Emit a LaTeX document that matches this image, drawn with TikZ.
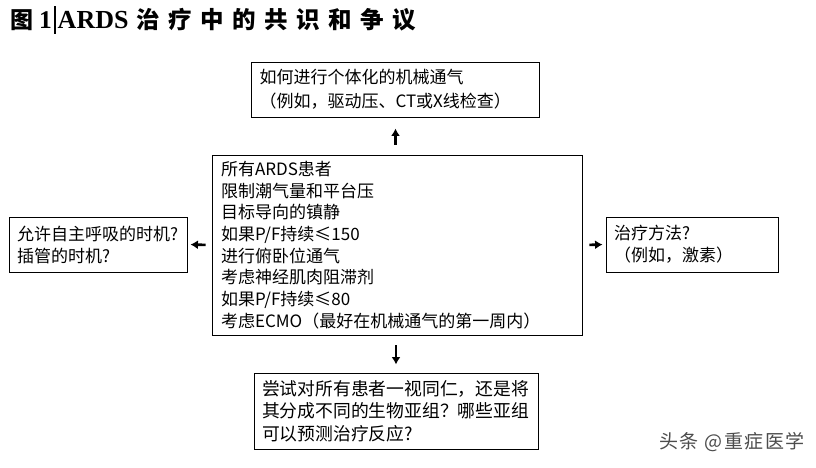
\documentclass[tikz,border=0pt]{standalone}
\usepackage{fontspec}
\usepackage{tikz}
\usetikzlibrary{positioning, arrows.meta}
\setmainfont{Noto Sans CJK SC}
\newfontfamily\cjk{Noto Sans CJK SC}
\newfontfamily\titlecjk[LetterSpace=36]{Noto Sans CJK SC}
\newfontfamily\markcjk[LetterSpace=8]{Noto Sans CJK SC}
\newfontfamily\titleserif{Liberation Serif}

\begin{document}
\begin{tikzpicture}[x=1pt, y=-1pt,
    box/.style={draw, line width=0.9pt, align=left, inner ysep=0pt, font=\cjk\fontsize{17}{22}\selectfont},
    link/.style={-{Latex[length=7.5pt, width=9pt]}, line width=2.6pt}]
    \useasboundingbox[fill=white] (0,0) rectangle (816,468);

    % Tiêu đề
    \node[anchor=base west, inner sep=0pt] (title) at (10,29)
        {{\cjk\bfseries\fontsize{23}{23}\selectfont 图}\hspace{6pt}{\titleserif\bfseries\fontsize{25.5}{25.5}\selectfont 1}\hspace{2pt}\rule[-5pt]{1.8pt}{28pt}\hspace{2pt}{\titleserif\bfseries\fontsize{26}{26}\selectfont ARDS}\hspace{8pt}{\titlecjk\bfseries\fontsize{23.5}{23.5}\selectfont 治疗中的共识和争议}};

    % Các hộp
    \node[box, inner xsep=9pt, minimum width=370pt, minimum height=180pt, text width=352pt] (core) at (397,245)
        {所有ARDS患者\\[-0.3pt]限制潮气量和平台压\\[-0.3pt]目标导向的镇静\\[-0.3pt]如果P/F持续≤150\\[-0.3pt]进行俯卧位通气\\[-0.3pt]考虑神经肌肉阻滞剂\\[-0.3pt]如果P/F持续≤80\\[-0.3pt]考虑ECMO（最好在机械通气的第一周内）};
    \node[box, inner xsep=8pt, minimum width=288pt, minimum height=55pt, text width=272pt] (way) at (395.5,89.5)
        {如何进行个体化的机械通气\\[2pt]（例如，驱动压、CT或X线检查）};
    \node[box, inner xsep=8pt, minimum width=178pt, minimum height=55pt, text width=162pt] (timing) at (98,244.5)
        {允许自主呼吸的时机?\\插管的时机?};
    \node[box, inner xsep=8pt, minimum width=172pt, minimum height=55pt, text width=156pt] (drug) at (692,244.5)
        {治疗方法?\\（例如，激素）};
    \node[box, inner xsep=8pt, minimum width=284pt, minimum height=76pt, text width=268pt,
        font=\cjk\fontsize{17.8}{22.5}\selectfont] (group) at (396,411)
        {尝试对所有患者一视同仁，还是将\\其分成不同的生物亚组？哪些亚组\\可以预测治疗反应?};

    % Mũi tên
    \draw[link, shorten <=10pt, shorten >=11pt] (core.north -| way.south) -- (way.south);
    \draw[link, shorten <=6pt, shorten >=3pt] (core.west) -- (timing.east);
    \draw[link, shorten <=7pt, shorten >=3pt] (core.east) -- (drug.west);
    \draw[link, shorten <=10pt, shorten >=8pt] (core.south -| group.north) -- (group.north);

    % Ghi chú
    \node[anchor=east, inner sep=0pt, text=black!70, font=\markcjk\fontsize{19}{19}\selectfont] (mark) at (805,442) {头条 @重症医学};
\end{tikzpicture}
\end{document}
